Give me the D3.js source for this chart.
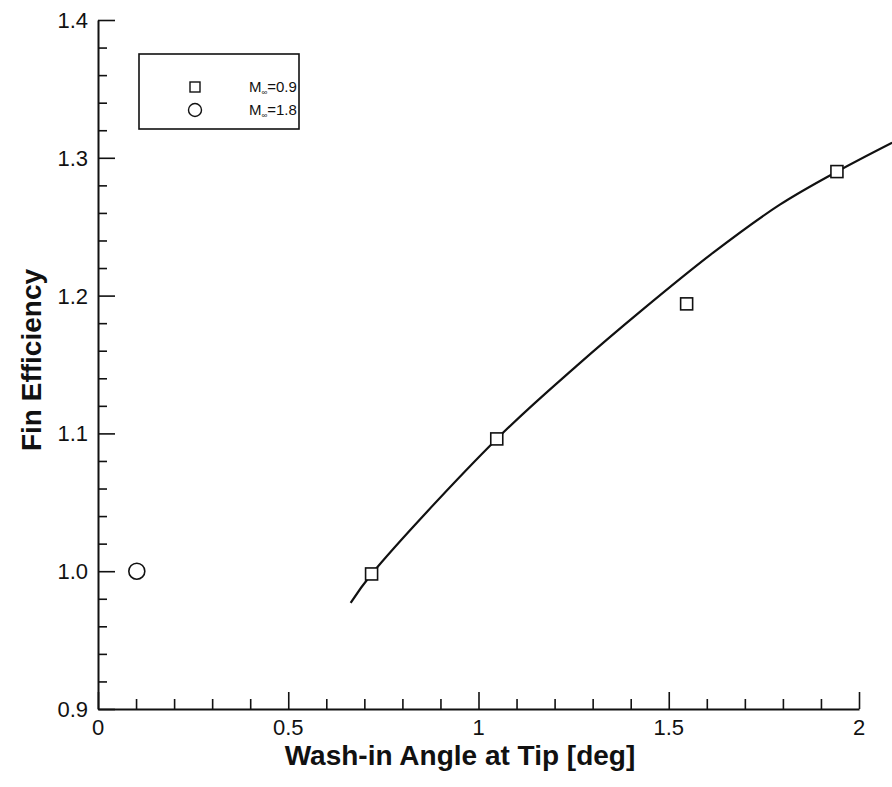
<!DOCTYPE html>
<html>
<head>
<meta charset="utf-8">
<script src="https://cdn.jsdelivr.net/npm/d3@7"></script>
<style>
  html, body { margin: 0; padding: 0; background: #fff; }
  svg { display: block; }
  text { font-family: "Liberation Sans", Arial, Helvetica, sans-serif; fill: #111; }
</style>
</head>
<body>
<svg id="chart" width="892" height="787"></svg>
<script>
// ---- data ----
const squareX = [0.719, 1.048, 1.547, 1.942];          // M∞=0.9
const squareY = [0.998, 1.096, 1.194, 1.290];
const circleX = [0.102];                               // M∞=1.8
const circleY = [1.000];
const fitX = [0.664, 0.719, 1.048, 1.258, 1.432, 1.616, 1.792, 1.942, 2.087];
const fitY = [0.977, 0.998, 1.096, 1.149, 1.190, 1.231, 1.266, 1.290, 1.311];
const xTicks = [0, 0.5, 1, 1.5, 2];
const xTickLabels = ["0", "0.5", "1", "1.5", "2"];
const yTicks = [0.9, 1.0, 1.1, 1.2, 1.3, 1.4];
const yTickLabels = ["0.9", "1.0", "1.1", "1.2", "1.3", "1.4"];
const legendLabels = ["0.9", "1.8"];

// ---- layout ----
const svg = d3.select("#chart");
const x = d3.scaleLinear().domain([0, 2]).range([98, 859]);
const y = d3.scaleLinear().domain([0.9, 1.4]).range([709, 20]);

const ink = "#111";

// fit curve
const fit = fitX.map((v, i) => [v, fitY[i]]);
svg.append("path")
  .datum(fit)
  .attr("fill", "none")
  .attr("stroke", ink)
  .attr("stroke-width", 2.2)
  .attr("d", d3.line().x(d => x(d[0])).y(d => y(d[1])).curve(d3.curveCatmullRom.alpha(0.5)));

// axes: ticks pointing inward
const xMinor = d3.range(0, 2.0001, 0.1).map(v => +v.toFixed(2));
const yMinor = d3.range(0.9, 1.4001, 0.02).map(v => +v.toFixed(3));

const xAxis = d3.axisTop(x)
  .tickValues(xMinor)
  .tickSize(10)
  .tickSizeOuter(0)
  .tickFormat("");
const gx = svg.append("g").attr("transform", `translate(0,${y(0.9)})`).call(xAxis);
gx.selectAll(".tick line").filter(d => xTicks.some(t => Math.abs(t - d) < 1e-6)).attr("y2", -17);

const yAxis = d3.axisRight(y)
  .tickValues(yMinor)
  .tickSize(9)
  .tickSizeOuter(0)
  .tickFormat("");
const gy = svg.append("g").attr("transform", `translate(${x(0)},0)`).call(yAxis);
gy.selectAll(".tick line").filter(d => yTicks.some(t => Math.abs(t - d) < 1e-6)).attr("x2", 17);

svg.selectAll(".domain").attr("stroke", ink).attr("stroke-width", 2);
svg.selectAll(".tick line").attr("stroke", ink).attr("stroke-width", 1.6);

// tick labels
svg.append("g").selectAll("text").data(xTicks).join("text")
  .attr("x", d => x(d))
  .attr("y", y(0.9) + 26)
  .attr("text-anchor", "middle")
  .attr("font-size", 22)
  .text((d, i) => xTickLabels[i]);

svg.append("g").selectAll("text").data(yTicks).join("text")
  .attr("x", x(0) - 10)
  .attr("y", d => y(d))
  .attr("dy", "0.36em")
  .attr("text-anchor", "end")
  .attr("font-size", 22)
  .text((d, i) => yTickLabels[i]);

// axis titles
svg.append("text")
  .attr("x", 460).attr("y", 765)
  .attr("text-anchor", "middle")
  .attr("font-size", 28).attr("font-weight", "bold")
  .text("Wash-in Angle at Tip [deg]");

svg.append("text")
  .attr("transform", "translate(41,360) rotate(-90)")
  .attr("text-anchor", "middle")
  .attr("font-size", 28).attr("font-weight", "bold")
  .text("Fin Efficiency");

// markers
const sq = 12;
svg.append("g").selectAll("rect").data(squareX.map((v, i) => [v, squareY[i]])).join("rect")
  .attr("x", d => x(d[0]) - sq / 2)
  .attr("y", d => y(d[1]) - sq / 2)
  .attr("width", sq).attr("height", sq)
  .attr("fill", "#fff").attr("stroke", ink).attr("stroke-width", 1.6);

svg.append("g").selectAll("circle").data(circleX.map((v, i) => [v, circleY[i]])).join("circle")
  .attr("cx", d => x(d[0])).attr("cy", d => y(d[1]))
  .attr("r", 8)
  .attr("fill", "#fff").attr("stroke", ink).attr("stroke-width", 1.6);

// legend
const lg = svg.append("g");
lg.append("rect")
  .attr("x", 139).attr("y", 54).attr("width", 160).attr("height", 75)
  .attr("fill", "#fff").attr("stroke", ink).attr("stroke-width", 1.6);
lg.append("rect")
  .attr("x", 190).attr("y", 82).attr("width", 10).attr("height", 10)
  .attr("fill", "#fff").attr("stroke", ink).attr("stroke-width", 1.4);
lg.append("circle")
  .attr("cx", 195).attr("cy", 110).attr("r", 6.5)
  .attr("fill", "#fff").attr("stroke", ink).attr("stroke-width", 1.4);
legendLabels.forEach((lab, i) => {
  const t = lg.append("text")
    .attr("x", 249).attr("y", 92 + i * 23)
    .attr("font-size", 15);
  t.append("tspan").text("M");
  t.append("tspan").attr("font-size", 8).attr("dy", 3).text("∞");
  t.append("tspan").attr("dy", -3).text("=" + lab);
});
</script>
</body>
</html>
